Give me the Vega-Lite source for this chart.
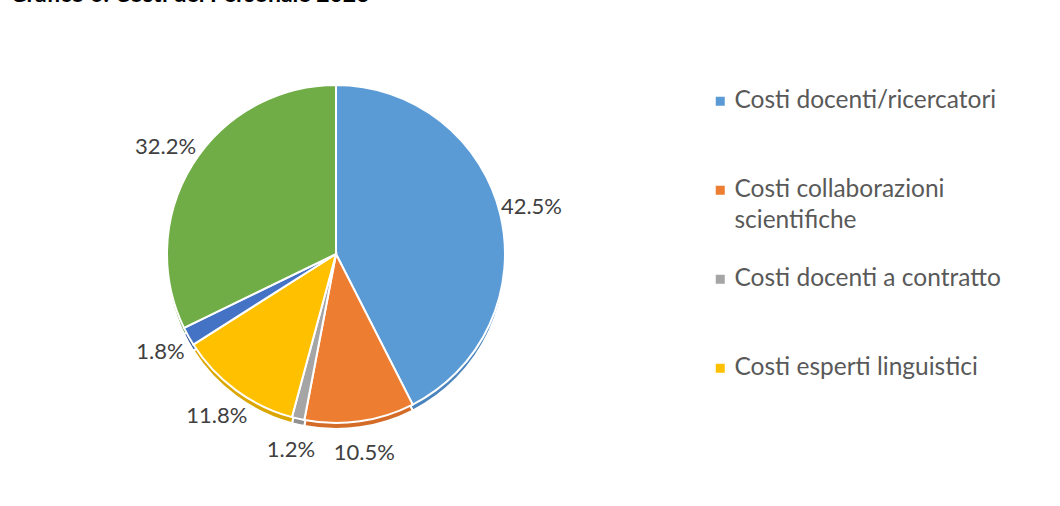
{
  "$schema": "https://vega.github.io/schema/vega-lite/v6.json",
  "width": 652,
  "height": 490,
  "autosize": {"type": "none"},
  "padding": {"left": 10, "top": 9, "right": 398, "bottom": 7},
  "background": "white",
  "title": {
    "text": "Grafico 6: Costi del Personale 2023",
    "anchor": "start",
    "frame": "group",
    "offset": -16,
    "baseline": "alphabetic",
    "font": "Lato",
    "fontSize": 23,
    "fontWeight": "bold",
    "color": "#000000"
  },
  "config": {"view": {"stroke": null}, "style": {"guide-label": {"lineHeight": 31}}},
  "data": {
    "values": [
      {"voce": "Costi docenti/ricercatori", "quota": 42.5, "etichetta": "42.5%", "ord": 1},
      {"voce": "Costi collaborazioni scientifiche", "quota": 10.5, "etichetta": "10.5%", "ord": 2},
      {"voce": "Costi docenti a contratto", "quota": 1.2, "etichetta": "1.2%", "ord": 3},
      {"voce": "Costi esperti linguistici", "quota": 11.8, "etichetta": "11.8%", "ord": 4},
      {"voce": "Costi altro personale dedicato alla didattica e alla ricerca", "quota": 1.8, "etichetta": "1.8%", "ord": 5},
      {"voce": "Costi personale dirigente e tecnico amministrativo", "quota": 32.2, "etichetta": "32.2%", "ord": 6}
    ]
  },
  "encoding": {
    "theta": {"field": "quota", "type": "quantitative", "stack": true},
    "order": {"field": "ord", "type": "quantitative"}
  },
  "layer": [
    {
      "mark": {"type": "arc", "radius": 169, "yOffset": 6, "stroke": "white", "strokeWidth": 2},
      "encoding": {
        "color": {
          "field": "voce",
          "type": "nominal",
          "scale": {
            "domain": ["Costi docenti/ricercatori", "Costi collaborazioni scientifiche", "Costi docenti a contratto", "Costi esperti linguistici", "Costi altro personale dedicato alla didattica e alla ricerca", "Costi personale dirigente e tecnico amministrativo"],
            "range": ["#4a84bd", "#d46c28", "#929292", "#dca600", "#2f5597", "#5e9538"]
          },
          "legend": null
        }
      }
    },
    {
      "mark": {"type": "arc", "radius": 169, "stroke": "white", "strokeWidth": 2},
      "encoding": {
        "color": {
          "field": "voce",
          "type": "nominal",
          "scale": {
            "domain": ["Costi docenti/ricercatori", "Costi collaborazioni scientifiche", "Costi docenti a contratto", "Costi esperti linguistici", "Costi altro personale dedicato alla didattica e alla ricerca", "Costi personale dirigente e tecnico amministrativo"],
            "range": ["#5b9bd5", "#ed7d31", "#a5a5a5", "#ffc000", "#4472c4", "#70ad47"]
          },
          "legend": {
            "values": ["Costi docenti/ricercatori", "Costi collaborazioni scientifiche", "Costi docenti a contratto", "Costi esperti linguistici"],
            "title": null,
            "orient": "none",
            "legendX": 698,
            "legendY": 80,
            "padding": 0,
            "symbolType": "square",
            "symbolSize": 81,
            "symbolStrokeWidth": 0,
            "labelFont": "Lato",
            "labelFontSize": 24.5,
            "labelColor": "#595959",
            "labelOffset": 2,
            "labelLimit": 0,
            "labelBaseline": "middle",
            "gridAlign": "all",
            "rowPadding": 33,
            "labelExpr": "datum.label == 'Costi collaborazioni scientifiche' ? ['Costi collaborazioni', 'scientifiche'] : datum.label"
          }
        }
      }
    },
    {
      "mark": {"type": "text", "radius": 201, "font": "Lato", "fontSize": 22, "color": "#404040"},
      "encoding": {"text": {"field": "etichetta", "type": "nominal"}}
    }
  ],
  "resolve": {"scale": {"color": "independent"}, "legend": {"color": "independent"}}
}
